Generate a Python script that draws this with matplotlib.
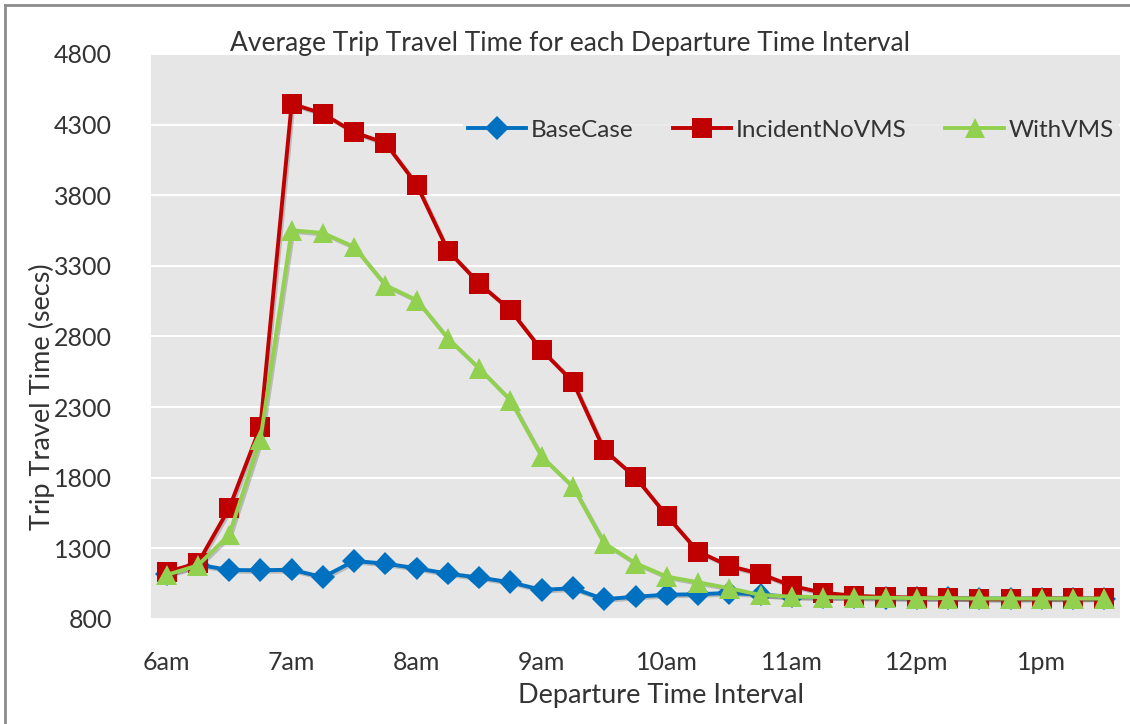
import matplotlib
matplotlib.use("Agg")
import matplotlib.pyplot as plt
import matplotlib.patheffects as pe
from matplotlib.lines import Line2D

plt.rcParams['font.family'] = ['Lato', 'DejaVu Sans']

# Departure intervals every 15 minutes, 6:00 to 13:30
intervals = ["6:00", "6:15", "6:30", "6:45", "7:00", "7:15", "7:30", "7:45",
             "8:00", "8:15", "8:30", "8:45", "9:00", "9:15", "9:30", "9:45",
             "10:00", "10:15", "10:30", "10:45", "11:00", "11:15", "11:30", "11:45",
             "12:00", "12:15", "12:30", "12:45", "13:00", "13:15", "13:30"]

tick_labels = ["6am", "7am", "8am", "9am", "10am", "11am", "12pm", "1pm"]

base_case = [1120, 1185, 1147, 1145, 1149, 1096, 1211, 1192, 1159, 1121,
             1093, 1060, 1006, 1018, 940, 958, 972, 975, 985, 972,
             958, 955, 952, 950, 948, 948, 945, 945, 945, 945, 945]

incident_no_vms = [1133, 1195, 1584, 2161, 4448, 4377, 4245, 4169, 3875, 3408,
                   3175, 2986, 2703, 2479, 1996, 1803, 1531, 1277, 1176, 1119,
                   1035, 985, 965, 955, 952, 948, 942, 940, 945, 945, 945]

with_vms = [1112, 1180, 1395, 2072, 3552, 3533, 3434, 3163, 3057, 2786,
            2574, 2349, 1949, 1736, 1336, 1195, 1100, 1060, 1018, 970,
            958, 955, 952, 950, 948, 948, 945, 945, 945, 945, 945]

series = [
    ("BaseCase", base_case, "#0070C0", "D", 12),
    ("IncidentNoVMS", incident_no_vms, "#C00000", "s", 14.5),
    ("WithVMS", with_vms, "#92D050", "^", 15),
]

W, H = 1130, 724
fig = plt.figure(figsize=(W / 100, H / 100), dpi=100)
ax = fig.add_axes([151 / W, 1 - 619 / H, 969 / W, 565 / H])
ax.set_facecolor("#E6E6E6")

x = list(range(len(intervals)))
shadow = [pe.SimpleLineShadow(offset=(1.2, -1.2), shadow_color="#555555", alpha=0.3),
          pe.Normal()]
for name, vals, color, marker, ms in series:
    ax.plot(x, vals, color=color, lw=2.8, marker=marker, markersize=ms,
            markeredgewidth=0, label=name, path_effects=shadow, zorder=3)

ax.set_xlim(-0.5, len(intervals) - 0.5)
ax.set_ylim(800, 4800)
ax.set_yticks(range(800, 4801, 500))
ax.set_xticks(range(0, len(intervals), 4))
ax.set_xticklabels(tick_labels)
ax.grid(axis="y", color="white", lw=1.4)
ax.set_axisbelow(True)
for s in ax.spines.values():
    s.set_visible(False)
ax.tick_params(axis="both", length=0, labelsize=18, colors="#333333")
ax.tick_params(axis="x", pad=23)
ax.tick_params(axis="y", pad=28)

ax.set_xlabel("Departure Time Interval", fontsize=19.5, color="#333333", va="center")
ax.xaxis.set_label_coords((661 - 151) / 969, (619 - 696) / 565)
ax.set_ylabel("Trip Travel Time (secs)", fontsize=19.5, color="#333333", va="center")
ax.yaxis.set_label_coords((42 - 151) / 969, (619 - 397) / 565)

fig.text(570 / W, 1 - 44 / H, "Average Trip Travel Time for each Departure Time Interval",
         ha="center", va="center", fontsize=19, color="#333333")

handles = [Line2D([], [], color=c, lw=2.8, marker=m, markersize=ms, markeredgewidth=0)
           for _, _, c, m, ms in series]
leg = ax.legend(handles, [s[0] for s in series], loc="center right",
                bbox_to_anchor=(1.0, (619 - 130) / 565), ncol=3, frameon=True,
                fontsize=17.5, handlelength=2.4, handletextpad=0.2, columnspacing=1.6,
                borderpad=0.2, borderaxespad=0.05, labelcolor="#333333")
leg.get_frame().set_facecolor("#E6E6E6")
leg.get_frame().set_edgecolor("none")

# Chart frame edges on the left and top
fig.add_artist(Line2D([5 / W, 5 / W], [0, 1 - 5 / H], color="#8C8C8C", lw=2,
                      transform=fig.transFigure))
fig.add_artist(Line2D([5 / W, 1], [1 - 5 / H, 1 - 5 / H], color="#8C8C8C", lw=2,
                      transform=fig.transFigure))

fig.savefig("out.png", dpi=100)
